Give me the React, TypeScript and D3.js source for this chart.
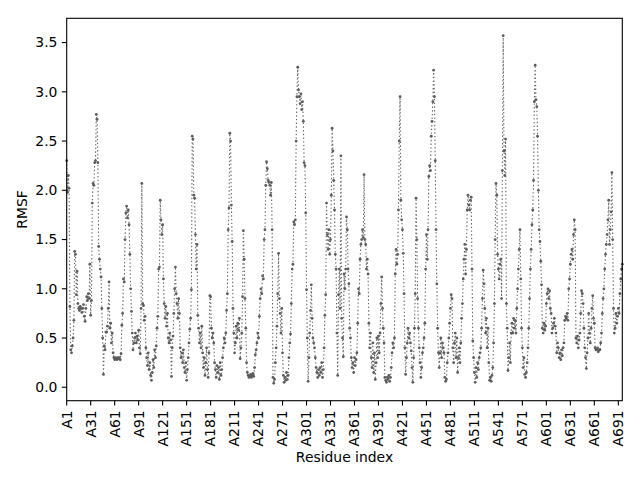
import React from "react";
import * as d3 from "d3";

// RMSF values per residue (A1 .. A696), in chunks of 50
const rmsf001 = [2.30,1.98,2.15,2.02,0.82,0.38,0.35,0.42,0.50,0.68,1.38,1.35,0.94,1.18,0.85,0.80,0.78,0.82,0.80,0.76,0.80,0.84,0.72,0.67,0.80,0.92,0.88,0.95,0.90,1.25,0.73,0.88,1.87,2.07,2.05,2.28,2.30,2.77,2.72,2.28,1.43,1.30,1.20,1.12,0.80,0.50,0.13,0.42,0.38,0.56];
const rmsf051 = [0.56,0.62,0.80,1.07,0.60,0.65,0.45,0.55,0.35,0.30,0.28,0.30,0.29,0.28,0.30,0.29,0.30,0.28,0.34,0.63,0.75,1.10,1.07,1.50,1.77,1.84,1.72,1.80,1.65,1.35,1.00,0.77,0.55,0.38,0.45,0.50,0.55,0.45,0.52,0.48,0.58,0.40,0.34,0.80,2.07,0.85,0.83,0.68,0.72,0.40];
const rmsf101 = [0.30,0.22,0.35,0.18,0.25,0.12,0.07,0.15,0.28,0.20,0.38,0.30,0.42,0.60,0.72,1.20,1.22,1.90,1.70,1.55,1.65,1.10,0.85,0.70,0.82,0.62,0.75,0.50,0.45,0.55,0.48,0.11,0.40,0.52,0.75,1.00,1.22,0.95,0.85,0.70,0.90,0.75,0.40,0.30,0.35,0.25,0.38,0.20,0.15,0.25];
const rmsf151 = [0.07,0.18,0.30,0.45,0.59,0.70,0.99,2.55,2.52,1.95,1.92,1.55,1.20,1.45,0.73,0.60,0.45,0.55,0.40,0.62,0.35,0.20,0.30,0.12,0.25,0.40,0.18,0.10,0.35,0.93,0.92,0.60,0.50,0.55,0.45,0.25,0.18,0.10,0.22,0.15,0.20,0.08,0.25,0.12,0.18,0.30,0.40,0.50,0.45,0.55];
const rmsf201 = [0.78,0.95,1.60,1.82,2.58,2.50,1.85,1.48,0.80,0.55,0.35,0.45,0.62,0.50,0.65,0.58,0.70,0.29,0.40,0.55,0.92,1.59,1.30,0.90,0.60,0.25,0.15,0.12,0.10,0.11,0.13,0.10,0.12,0.14,0.11,0.20,0.33,0.38,0.45,0.55,0.50,0.72,0.90,1.00,0.95,1.13,1.10,1.50,1.60,2.05];
const rmsf251 = [2.29,2.22,2.10,2.08,2.05,1.95,2.08,1.60,0.10,0.04,0.08,0.25,0.40,0.62,0.95,1.36,0.90,0.75,0.55,0.80,0.35,0.12,0.05,0.10,0.07,0.15,0.08,0.12,0.30,0.45,0.54,0.85,1.20,1.25,1.68,1.65,1.70,2.50,2.95,3.25,3.02,2.95,2.88,2.98,2.82,2.90,2.70,2.28,2.25,1.77];
const rmsf301 = [0.99,0.50,0.06,0.30,0.55,0.78,1.04,0.70,0.50,0.45,0.40,0.30,0.20,0.15,0.10,0.18,0.12,0.20,0.15,0.25,0.10,0.18,0.40,0.73,0.94,1.87,1.55,1.40,1.60,1.35,1.50,1.95,2.63,2.40,2.10,1.80,1.35,1.20,0.55,0.12,0.94,1.20,0.80,2.35,0.70,0.50,0.31,1.15,1.00,1.20];
const rmsf351 = [1.73,1.60,1.20,1.05,0.60,0.50,0.30,0.20,0.25,0.15,0.30,0.22,0.28,0.35,0.65,1.00,0.95,1.30,1.45,1.50,1.60,1.52,2.16,1.50,1.45,1.20,1.30,1.15,0.65,0.40,0.55,0.30,0.20,0.45,0.15,0.35,0.08,0.25,0.50,0.30,0.52,0.35,0.55,0.85,1.12,0.80,0.60,0.45,0.10,0.07];
const rmsf401 = [0.05,0.10,0.08,0.12,0.06,0.10,0.20,0.35,0.45,0.40,0.50,1.15,1.40,1.25,1.35,1.80,2.50,2.95,1.90,1.70,1.60,1.36,0.95,0.40,0.13,0.30,0.45,0.60,0.50,0.55,0.45,0.37,0.20,0.05,0.30,0.60,0.95,1.92,1.50,0.90,0.60,0.40,0.25,0.10,0.20,0.35,0.40,0.50,0.65,1.20];
const rmsf451 = [1.55,1.30,1.60,2.14,2.25,2.20,2.55,2.70,2.90,3.22,2.95,2.30,1.60,1.05,0.60,0.35,0.20,0.35,0.50,0.30,0.45,0.40,0.35,0.10,0.06,0.08,0.25,0.35,0.50,0.65,0.80,0.94,0.90,0.40,0.25,0.45,0.55,0.30,0.50,0.15,0.30,0.40,0.25,0.45,0.70,0.85,1.10,1.30,1.45,1.15];
const rmsf501 = [1.40,1.80,1.95,1.85,1.80,1.90,1.93,1.20,0.47,0.30,0.15,0.05,0.20,0.10,0.25,0.18,0.30,0.35,0.40,0.60,0.90,1.19,1.05,0.80,0.55,0.70,0.40,0.60,0.25,0.07,0.10,0.06,0.12,0.20,0.45,0.85,1.50,2.07,1.95,1.35,1.20,1.10,1.25,1.30,0.90,2.20,3.57,2.40,2.15,2.52];
const rmsf551 = [0.85,0.60,0.17,0.30,0.45,0.25,0.55,0.65,0.55,0.70,0.60,0.68,0.55,0.80,1.00,1.20,1.40,1.60,1.10,0.60,0.40,0.20,0.30,0.13,0.10,0.15,0.25,0.40,0.60,0.90,1.20,1.40,1.65,1.80,2.10,2.90,3.27,2.92,2.85,2.55,2.00,1.60,1.48,1.28,1.04,0.60,0.55,0.65,0.58,0.62];
const rmsf601 = [0.85,0.95,1.00,0.90,0.98,0.80,0.75,0.55,0.60,0.65,0.70,0.62,0.55,0.35,0.45,0.40,0.30,0.35,0.28,0.38,0.32,0.40,0.45,0.68,0.72,0.70,0.75,0.68,1.00,1.10,1.25,1.35,1.40,1.30,1.55,1.70,1.60,0.50,0.45,0.52,0.40,0.48,0.55,0.75,0.98,0.95,0.85,0.60,0.40,0.30];
const rmsf651 = [0.19,0.35,0.50,0.75,0.55,0.45,0.60,0.80,0.93,0.70,0.65,0.40,0.38,0.38,0.40,0.36,0.38,0.38,0.45,0.55,0.75,0.90,1.00,1.20,1.35,1.45,1.55,1.70,1.90,1.45,1.60,1.78,2.18,1.50,0.80,0.55,0.60,0.75,0.65,0.72,0.80,0.75,0.95,1.10,1.20,1.25];

const rmsf: number[] = [
  ...rmsf001, ...rmsf051, ...rmsf101, ...rmsf151, ...rmsf201, ...rmsf251, ...rmsf301,
  ...rmsf351, ...rmsf401, ...rmsf451, ...rmsf501, ...rmsf551, ...rmsf601, ...rmsf651,
];
const residues: string[] = rmsf.map((_, i) => `A${i + 1}`);
const xTickIdx: number[] = d3.range(0, 691, 30);
const yTicks: number[] = [0, 0.5, 1, 1.5, 2, 2.5, 3, 3.5];

const W = 640, H = 480;
const M = { left: 66.7, right: 622.3, top: 18.3, bottom: 400.7 };
const FONT = "'DejaVu Sans', sans-serif";
const LINE = "#666666";

export default function App() {
  const [lo, hi] = d3.extent(rmsf) as [number, number];
  const pad = (hi - lo) * 0.05;
  const x = d3.scaleLinear().domain([0, rmsf.length - 1]).range([M.left, M.right]);
  const y = d3.scaleLinear().domain([lo - pad, hi + pad]).range([M.bottom, M.top]);
  const line = d3.line<number>().x((_, i) => x(i)).y((d) => y(d));
  const tickLen = 4.86;
  return (
    <svg width={W} height={H} style={{ position: "absolute", left: 0, top: 0, background: "#fff" }} fontFamily={FONT}>
      <rect x={0} y={0} width={W} height={H} fill="#fff" />
      <path d={line(rmsf) || ""} fill="none" stroke={LINE} strokeWidth={1.1} strokeDasharray="1.4,2.3" />
      {rmsf.map((v, i) => (
        <circle key={i} cx={x(i)} cy={y(v)} r={1.4} fill="#5c5c5c" />
      ))}
      <rect x={M.left} y={M.top} width={M.right - M.left} height={M.bottom - M.top} fill="none" stroke="#000" strokeWidth={1.1} />
      {yTicks.map((t) => (
        <g key={t} transform={`translate(${M.left},${y(t)})`}>
          <line x1={-tickLen} x2={0} stroke="#000" strokeWidth={1.1} />
          <text x={-tickLen - 4.4} dy="0.35em" textAnchor="end" fontSize={13.9} fill="#000">{t.toFixed(1)}</text>
        </g>
      ))}
      {xTickIdx.map((i) => (
        <g key={i} transform={`translate(${x(i)},${M.bottom})`}>
          <line y1={0} y2={tickLen} stroke="#000" strokeWidth={1.1} />
          <text transform={`translate(0,${tickLen + 4.86}) rotate(-90)`} textAnchor="end" dy="0.35em" fontSize={13.9} fill="#000">{residues[i]}</text>
        </g>
      ))}
      <text x={(M.left + M.right) / 2} y={462} textAnchor="middle" fontSize={13.9} fill="#000">Residue index</text>
      <text transform={`translate(27,${(M.top + M.bottom) / 2}) rotate(-90)`} textAnchor="middle" fontSize={13.9} fill="#000">RMSF</text>
    </svg>
  );
}
